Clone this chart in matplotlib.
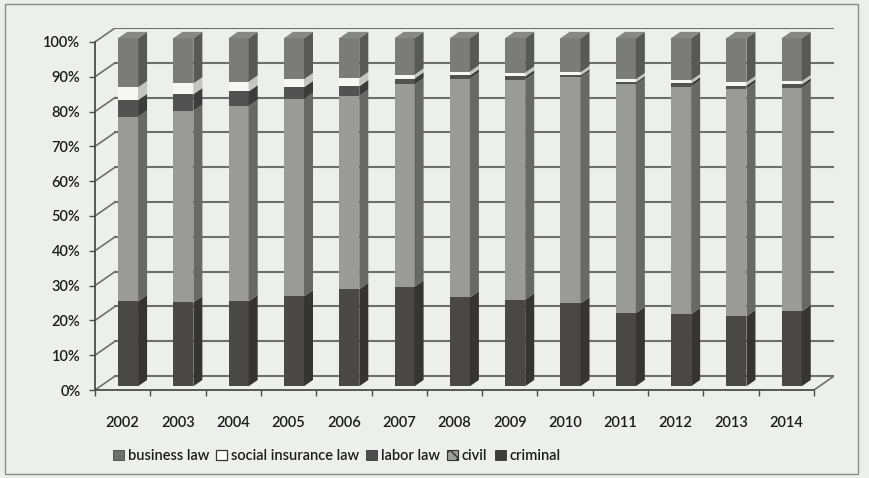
import numpy as np
import matplotlib
matplotlib.use("Agg")
import matplotlib.pyplot as plt
from matplotlib.patches import Patch, Rectangle

plt.rcParams['font.family'] = ['Lato', 'DejaVu Sans']
plt.rcParams['font.weight'] = 'semibold'

# share of cases per branch of law, % of the yearly total
years = ['2002', '2003', '2004', '2005', '2006', '2007', '2008',
         '2009', '2010', '2011', '2012', '2013', '2014']
criminal = [24.4, 24.1, 24.4, 25.8, 27.9, 28.6, 25.5, 24.9, 23.8, 21.0, 20.7, 20.1, 21.5]
civil = [53.0, 55.0, 56.1, 56.7, 55.5, 58.1, 62.9, 63.2, 64.9, 65.7, 65.4, 65.4, 64.3]
labor_law = [4.8, 4.8, 4.2, 3.4, 2.8, 1.7, 0.9, 0.9, 0.6, 0.6, 0.9, 0.9, 0.9]
social_insurance_law = [3.7, 3.1, 2.8, 2.3, 2.3, 1.1, 1.1, 1.1, 0.9, 0.9, 0.9, 0.9, 0.9]
business_law = [14.1, 13.0, 12.5, 11.8, 11.5, 10.5, 9.6, 9.9, 9.8, 11.8, 12.1, 12.7, 12.4]

# stacking order bottom -> top, with (front, side) shades
series = [
    ('criminal', criminal, '#4a4847', '#363433'),
    ('civil', civil, '#9a9a98', '#686866'),
    ('labor law', labor_law, '#525252', '#3c3c3c'),
    ('social insurance law', social_insurance_law, '#f6f6f4', '#c4c4c2'),
    ('business law', business_law, '#7b7b79', '#585856'),
]

BG = '#edefed'
GRID = '#6e6e6e'
TEXT = '#1c1c1c'

# fake depth of the 3d box (category units, percent units)
DX, DY = 0.362, 4.0
BAR_DEPTH = 0.27      # where the bars sit inside the box
SIDE = 0.45           # visible side face, fraction of box depth
FW = 0.362            # front face width


def draw_box(ax, n):
    """Back wall, side wall and floor of the pseudo-3d chart."""
    x0, x1 = -0.5, n - 0.5
    for v in range(0, 101, 10):
        ax.plot([x0 + DX, x1 + DX], [v + DY, v + DY], color=GRID, lw=1.5, zorder=1)
        ax.plot([x0, x0 + DX], [v, v + DY], color=GRID, lw=1.2, zorder=1)
    ax.plot([x1, x1 + DX], [0, DY], color=GRID, lw=1.2, zorder=1)


def draw_bars(ax, n):
    x = np.arange(n)
    xc = x + BAR_DEPTH * DX
    lift = BAR_DEPTH * DY
    sdx, sdy = SIDE * DX, SIDE * DY
    xr = xc + FW / 2
    xl = xc - FW / 2
    bottom = np.zeros(n)
    for name, vals, front, side in series:
        vals = np.array(vals)
        ax.bar(xc, vals, width=FW, bottom=bottom + lift, color=front,
               linewidth=0, zorder=3)
        for i in range(n):
            b = bottom[i] + lift
            t = b + vals[i]
            ax.fill([xr[i], xr[i] + sdx, xr[i] + sdx, xr[i]],
                    [b, b + sdy, t + sdy, t], color=side, lw=0, zorder=3)
        bottom = bottom + vals
    # top faces of the columns
    top_front = '#878785'
    for i in range(n):
        t = bottom[i] + lift
        ax.fill([xl[i], xr[i], xr[i] + sdx, xl[i] + sdx],
                [t, t, t + sdy, t + sdy], color=top_front, lw=0, zorder=4)


def main():
    n = len(years)
    fig = plt.figure(figsize=(8.7, 4.78), dpi=100, facecolor=BG)
    ax = fig.add_axes([95 / 870, 88 / 478, 739 / 870, 362 / 478])
    ax.set_facecolor(BG)
    ax.set_xlim(-0.5, n - 0.5 + DX)
    ax.set_ylim(0, 100 + DY)

    draw_box(ax, n)
    draw_bars(ax, n)

    for s in ['top', 'right']:
        ax.spines[s].set_visible(False)
    ax.spines['left'].set_bounds(0, 100)
    ax.spines['bottom'].set_bounds(-0.5, n - 0.5)
    for s in ['left', 'bottom']:
        ax.spines[s].set_color('#4c4c4c')
        ax.spines[s].set_linewidth(1.3)

    ax.set_yticks(range(0, 101, 10))
    ax.set_yticklabels([f'{v}%' for v in range(0, 101, 10)])
    ax.tick_params(axis='y', length=4.5, width=1.0, color='#4c4c4c', pad=6,
                   labelsize=10.5, labelcolor=TEXT)

    ax.set_xticks(np.arange(n + 1) - 0.5)
    ax.set_xticklabels([])
    ax.tick_params(axis='x', which='major', length=4, width=1.0, color='#4c4c4c')
    ax.set_xticks(np.arange(n), minor=True)
    ax.set_xticklabels(years, minor=True)
    ax.tick_params(axis='x', which='minor', length=0, pad=19,
                   labelsize=10.5, labelcolor=TEXT)

    # legend lists the series top -> bottom
    handles = [
        Patch(facecolor='#6e6e6c', edgecolor='#444444', lw=0.6, label='business law'),
        Patch(facecolor='white', edgecolor='#333333', lw=0.9, label='social insurance law'),
        Patch(facecolor='#4e4e4e', edgecolor='#3a3a3a', lw=0.6, label='labor law'),
        Patch(facecolor='#9d9d9b', edgecolor='#333333', lw=0.8, hatch='xx', label='civil'),
        Patch(facecolor='#3e3c3b', edgecolor='#333333', lw=0.6, label='criminal'),
    ]
    fig.legend(handles=handles, loc='center left', bbox_to_anchor=(100 / 870, 1 - 456 / 478),
               ncol=5, frameon=False, fontsize=10.5, handlelength=0.75, handleheight=0.75,
               handletextpad=0.25, columnspacing=0.5, labelcolor=TEXT)

    fig.patches.append(Rectangle((5 / 870, 4 / 478), 853 / 870, 470 / 478,
                                 transform=fig.transFigure, fill=False,
                                 edgecolor='#8c8c8c', lw=1.0))

    fig.savefig('out.png', dpi=100, facecolor=BG)
    plt.close(fig)


if __name__ == '__main__':
    main()
